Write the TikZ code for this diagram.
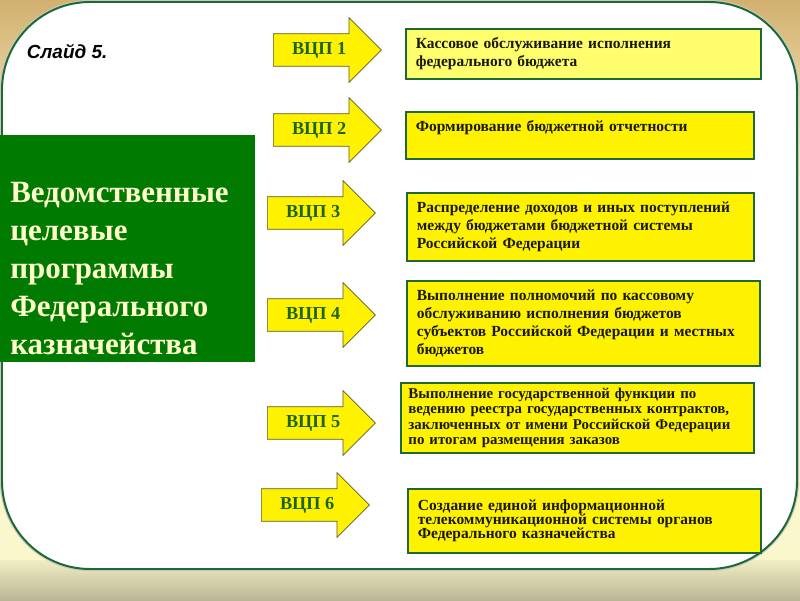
\documentclass[tikz,border=0pt]{standalone}
\usepackage{fontspec}
\setmainfont{Liberation Serif}
\setsansfont{Liberation Sans}
\usepackage{tikz}
\usetikzlibrary{shapes,arrows,positioning,calc}

\definecolor{bgtan}{RGB}{210,176,112}
\definecolor{bgcream}{RGB}{250,247,204}
\definecolor{bgolive}{RGB}{186,182,148}
\definecolor{framegreen}{RGB}{30,105,50}
\definecolor{progreen}{RGB}{0,122,0}
\definecolor{protext}{RGB}{255,255,204}
\definecolor{vcpgreen}{RGB}{30,100,20}
\definecolor{paleyellow}{RGB}{255,255,110}
\definecolor{tasktext}{RGB}{25,25,10}

\begin{document}
\begin{tikzpicture}[
        panel/.style={draw=framegreen, line width=1.4pt, fill=white, rounded corners=2.2cm},
        halo/.style={draw=gray!45, line width=3pt, rounded corners=2.2cm},
        progbox/.style={rectangle, fill=progreen, minimum width=6.375cm, minimum height=5.675cm, anchor=north west, inner sep=0pt},
        progtext/.style={align=left, anchor=north west, inner sep=0pt, text=protext, font=\bfseries\fontsize{22}{27}\selectfont},
        vcparrow/.style={single arrow, draw=olive!55!black, fill=yellow, line width=0.5pt, single arrow head extend=0.4cm, minimum height=2.7cm, text height=9pt, text depth=2.5pt, inner ysep=5.6pt, anchor=tail, text=vcpgreen, font=\bfseries\fontsize{13}{13}\selectfont},
        taskbox/.style={rectangle, draw=framegreen, line width=1.2pt, fill=yellow, anchor=north west, align=left, inner xsep=0.25cm, text=tasktext, font=\bfseries\fontsize{11}{12.8}\selectfont},
        slide/.style={anchor=west, font=\sffamily\bfseries\itshape\fontsize{13.5}{15}\selectfont}
    ]
    \useasboundingbox (0,0) rectangle (20,15);

    % Background
    \fill[top color=bgtan, bottom color=bgcream] (0,10.5) rectangle (20,15);
    \fill[bgcream] (0,1.0) rectangle (20,10.5);
    \fill[top color=bgcream!85!bgolive, bottom color=bgolive] (0,0) rectangle (20,1.0);

    % Slide panel
    \draw[halo] (0.05,0.775) rectangle (19.925,14.95);
    \draw[panel] (0.05,0.775) rectangle (19.925,14.95);

    \node[slide] (slidenum) at (0.55,13.72) {Слайд 5.};

    % Programs block
    \node[progbox] (programs) at (0,11.625) {};
    \node[progtext] (progtitle) at (0.25,10.45) {Ведомственные\\целевые\\программы\\Федерального\\казначейства};

    % VCP arrows
    \node[vcparrow] (vcp1) at (6.825,13.75) {ВЦП 1};
    \node[vcparrow] (vcp2) at (6.825,11.75) {ВЦП 2};
    \node[vcparrow] (vcp3) at (6.675,9.675) {ВЦП 3};
    \node[vcparrow] (vcp4) at (6.675,7.125) {ВЦП 4};
    \node[vcparrow] (vcp5) at (6.675,4.425) {ВЦП 5};
    \node[vcparrow] (vcp6) at (6.525,2.375) {ВЦП 6};

    % Tasks
    \node[taskbox, fill=paleyellow, text width=8.375cm, minimum height=1.25cm] (task1) at (10.125,14.3) {Кассовое обслуживание исполнения\\федерального бюджета};
    \node[taskbox, text width=8.2cm, minimum height=1.175cm] (task2) at (10.125,12.225) {Формирование бюджетной отчетности\\\mbox{}};
    \node[taskbox, text width=8.175cm, minimum height=1.7cm] (task3) at (10.15,10.2) {Распределение доходов и иных поступлений\\между бюджетами бюджетной системы\\Российской Федерации};
    \node[taskbox, text width=8.325cm, minimum height=2.125cm] (task4) at (10.15,8.0) {Выполнение полномочий по кассовому\\обслуживанию исполнения бюджетов\\субъектов Российской Федерации и местных\\бюджетов};
    \node[taskbox, text width=8.45cm, inner xsep=0.19cm, minimum height=1.75cm, font=\bfseries\fontsize{10.6}{11}\selectfont] (task5) at (10.0,5.45) {Выполнение государственной  функции по\\ведению реестра государственных контрактов,\\заключенных от  имени Российской Федерации\\по итогам размещения заказов};
    \node[taskbox, text width=8.325cm, minimum height=1.6cm, font=\bfseries\fontsize{11}{10}\selectfont] (task6) at (10.175,2.8) {Создание единой информационной\\телекоммуникационной системы органов\\Федерального казначейства};

\end{tikzpicture}
\end{document}
